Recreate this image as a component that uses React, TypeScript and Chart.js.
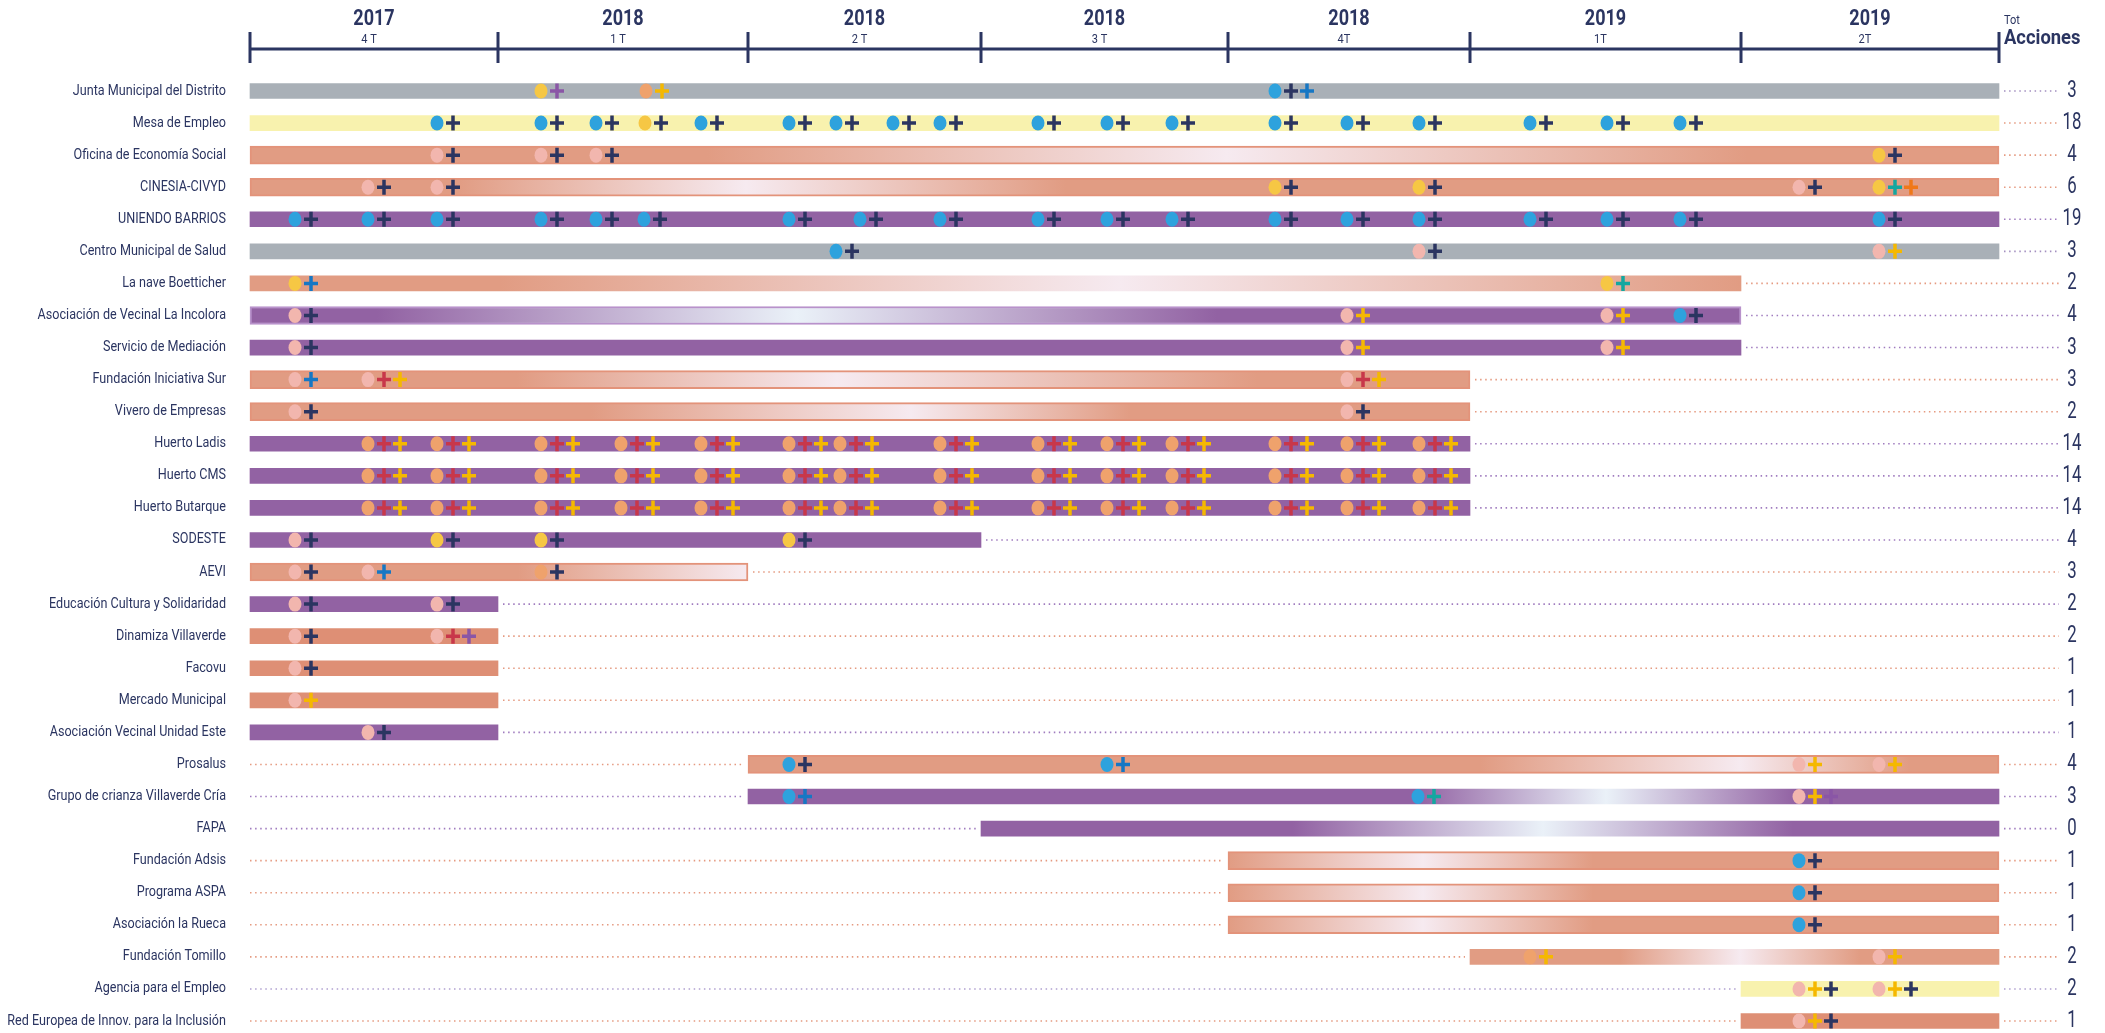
import React, { useEffect, useRef } from 'react';
import { Chart, registerables } from 'chart.js';
Chart.register(...registerables);

// ---------- DATA ----------
const organizations = [
  'Junta Municipal del Distrito', 'Mesa de Empleo', 'Oficina de Economía Social', 'CINESIA-CIVYD',
  'UNIENDO BARRIOS', 'Centro Municipal de Salud', 'La nave Boetticher', 'Asociación de Vecinal La Incolora',
  'Servicio de Mediación', 'Fundación Iniciativa Sur', 'Vivero de Empresas', 'Huerto Ladis', 'Huerto CMS',
  'Huerto Butarque', 'SODESTE', 'AEVI', 'Educación Cultura y Solidaridad', 'Dinamiza Villaverde', 'Facovu',
  'Mercado Municipal', 'Asociación Vecinal Unidad Este', 'Prosalus', 'Grupo de crianza Villaverde Cría', 'FAPA',
  'Fundación Adsis', 'Programa ASPA', 'Asociación la Rueca', 'Fundación Tomillo', 'Agencia para el Empleo',
  'Red Europea de Innov. para la Inclusión',
];

const quarterEdges = [0, 248, 498, 731, 978, 1220, 1491, 1749];
const yearLabels = ['2017', '2018', '2018', '2018', '2018', '2019', '2019'];
const quarterLabels = ['4 T', '1 T', '2 T', '3 T', '4T', '1T', '2T'];

const barStart = [0, 0, 0, 0, 0, 0, 0, 0, 0, 0, 0, 0, 0, 0, 0, 0, 0, 0, 0, 0, 0, 498, 498, 731, 978, 978, 978, 1220, 1491, 1491];
const barEnd = [1749, 1749, 1749, 1749, 1749, 1749, 1491, 1491, 1491, 1220, 1220, 1220, 1220, 1220, 731, 498, 248, 248, 248, 248, 248, 1749, 1749, 1749, 1749, 1749, 1749, 1749, 1749, 1749];
const totals = [3, 18, 4, 6, 19, 3, 2, 4, 3, 3, 2, 14, 14, 14, 4, 3, 2, 2, 1, 1, 1, 4, 3, 0, 1, 1, 1, 2, 2, 1];

// actions: [time, meeting type, action types]
// meeting: b blue, y yellow, o orange, p pink ; action: n navy, u purple, y yellow, l blue, t teal, o orange, r red
type Ev = [number, string, string];
const junta: Ev[] = [[291, 'y', 'u'], [396, 'o', 'y'], [1025, 'b', 'nl']];
const mesa: Ev[] = [[187, 'b', 'n'], [291, 'b', 'n'], [346, 'b', 'n'], [395, 'y', 'n'], [451, 'b', 'n'], [539, 'b', 'n'], [586, 'b', 'n'], [643, 'b', 'n'], [690, 'b', 'n'], [788, 'b', 'n'], [857, 'b', 'n'], [922, 'b', 'n'], [1025, 'b', 'n'], [1097, 'b', 'n'], [1169, 'b', 'n'], [1280, 'b', 'n'], [1357, 'b', 'n'], [1430, 'b', 'n']];
const oficina: Ev[] = [[187, 'p', 'n'], [291, 'p', 'n'], [346, 'p', 'n'], [1629, 'y', 'n']];
const cinesia: Ev[] = [[118, 'p', 'n'], [187, 'p', 'n'], [1025, 'y', 'n'], [1169, 'y', 'n'], [1549, 'p', 'n'], [1629, 'y', 'to']];
const uniendo: Ev[] = [[45, 'b', 'n'], [118, 'b', 'n'], [187, 'b', 'n'], [291, 'b', 'n'], [346, 'b', 'n'], [394, 'b', 'n'], [539, 'b', 'n'], [610, 'b', 'n'], [690, 'b', 'n'], [788, 'b', 'n'], [857, 'b', 'n'], [922, 'b', 'n'], [1025, 'b', 'n'], [1097, 'b', 'n'], [1169, 'b', 'n'], [1280, 'b', 'n'], [1357, 'b', 'n'], [1430, 'b', 'n'], [1629, 'b', 'n']];
const centro: Ev[] = [[586, 'b', 'n'], [1169, 'p', 'n'], [1629, 'p', 'y']];
const laNave: Ev[] = [[45, 'y', 'l'], [1357, 'y', 't']];
const incolora: Ev[] = [[45, 'p', 'n'], [1097, 'p', 'y'], [1357, 'p', 'y'], [1430, 'b', 'n']];
const mediacion: Ev[] = [[45, 'p', 'n'], [1097, 'p', 'y'], [1357, 'p', 'y']];
const iniciativa: Ev[] = [[45, 'p', 'l'], [118, 'p', 'ry'], [1097, 'p', 'ry']];
const vivero: Ev[] = [[45, 'p', 'n'], [1097, 'p', 'n']];
const huertoLadis: Ev[] = [[118, 'o', 'ry'], [187, 'o', 'ry'], [291, 'o', 'ry'], [371, 'o', 'ry'], [451, 'o', 'ry'], [539, 'o', 'ry'], [590, 'o', 'ry'], [690, 'o', 'ry'], [788, 'o', 'ry'], [857, 'o', 'ry'], [922, 'o', 'ry'], [1025, 'o', 'ry'], [1097, 'o', 'ry'], [1169, 'o', 'ry']];
const huertoCMS: Ev[] = [[118, 'o', 'ry'], [187, 'o', 'ry'], [291, 'o', 'ry'], [371, 'o', 'ry'], [451, 'o', 'ry'], [539, 'o', 'ry'], [590, 'o', 'ry'], [690, 'o', 'ry'], [788, 'o', 'ry'], [857, 'o', 'ry'], [922, 'o', 'ry'], [1025, 'o', 'ry'], [1097, 'o', 'ry'], [1169, 'o', 'ry']];
const huertoButarque: Ev[] = [[118, 'o', 'ry'], [187, 'o', 'ry'], [291, 'o', 'ry'], [371, 'o', 'ry'], [451, 'o', 'ry'], [539, 'o', 'ry'], [590, 'o', 'ry'], [690, 'o', 'ry'], [788, 'o', 'ry'], [857, 'o', 'ry'], [922, 'o', 'ry'], [1025, 'o', 'ry'], [1097, 'o', 'ry'], [1169, 'o', 'ry']];
const sodeste: Ev[] = [[45, 'p', 'n'], [187, 'y', 'n'], [291, 'y', 'n'], [539, 'y', 'n']];
const aevi: Ev[] = [[45, 'p', 'n'], [118, 'p', 'l'], [291, 'o', 'n']];
const educacion: Ev[] = [[45, 'p', 'n'], [187, 'p', 'n']];
const dinamiza: Ev[] = [[45, 'p', 'n'], [187, 'p', 'ru']];
const facovu: Ev[] = [[45, 'p', 'n']];
const mercado: Ev[] = [[45, 'p', 'y']];
const unidadEste: Ev[] = [[118, 'p', 'n']];
const prosalus: Ev[] = [[539, 'b', 'n'], [857, 'b', 'l'], [1549, 'p', 'y'], [1629, 'p', 'y']];
const grupoCrianza: Ev[] = [[539, 'b', 'l'], [1168, 'b', 't'], [1549, 'p', 'yu']];
const fapa: Ev[] = [];
const adsis: Ev[] = [[1549, 'b', 'n']];
const aspa: Ev[] = [[1549, 'b', 'n']];
const rueca: Ev[] = [[1549, 'b', 'n']];
const tomillo: Ev[] = [[1280, 'o', 'y'], [1629, 'p', 'y']];
const agencia: Ev[] = [[1549, 'p', 'yn'], [1629, 'p', 'yn']];
const redEuropea: Ev[] = [[1549, 'p', 'yn']];

const events: Ev[][] = [junta, mesa, oficina, cinesia, uniendo, centro, laNave, incolora, mediacion, iniciativa, vivero,
  huertoLadis, huertoCMS, huertoButarque, sodeste, aevi, educacion, dinamiza, facovu, mercado, unidadEste, prosalus,
  grupoCrianza, fapa, adsis, aspa, rueca, tomillo, agencia, redEuropea];

// ---------- STYLE ----------
// [kind, fade centre, fade spread left, fade spread right, outlined]
type Look = [string, number | null, number, number, boolean];
const rowLook: Look[] = [
  ['gray', null, 0, 0, false],
  ['yellow', null, 0, 0, false],
  ['salmon', 977, 520, 520, true],
  ['salmon', 496, 290, 320, true],
  ['purple', null, 0, 0, false],
  ['gray', null, 0, 0, false],
  ['salmon', 870, 620, 620, false],
  ['purple', 547, 420, 420, true],
  ['purple', null, 0, 0, false],
  ['salmon', 587, 320, 420, true],
  ['salmon', 661, 320, 220, true],
  ['purple', null, 0, 0, false],
  ['purple', null, 0, 0, false],
  ['purple', null, 0, 0, false],
  ['purple', null, 0, 0, false],
  ['salmon', 498, 230, 0, true],
  ['purple', null, 0, 0, false],
  ['salmonSolid', null, 0, 0, false],
  ['salmonSolid', null, 0, 0, false],
  ['salmonSolid', null, 0, 0, false],
  ['purple', null, 0, 0, false],
  ['salmon', 1490, 260, 170, true],
  ['purple', 1356, 190, 190, false],
  ['purple', 1293, 250, 250, false],
  ['salmon', 1173, 200, 170, true],
  ['salmon', 1173, 200, 170, true],
  ['salmon', 1173, 200, 170, true],
  ['salmon', 1490, 120, 120, false],
  ['yellow', null, 0, 0, false],
  ['salmonSolid', null, 0, 0, false],
];
const dottedColor = ['#A390C0', '#E59A80', '#E59A80', '#E59A80', '#A07CBF', '#A390C0', '#E59A80', '#A07CBF', '#A07CBF', '#E59A80',
  '#E59A80', '#A07CBF', '#A07CBF', '#A07CBF', '#A07CBF', '#E59A80', '#A07CBF', '#E59A80', '#E59A80', '#E59A80', '#A07CBF',
  '#E59A80', '#A07CBF', '#A07CBF', '#E59A80', '#E59A80', '#E59A80', '#E59A80', '#B0A0D0', '#E59A80'];

const BASE: Record<string, string> = {
  gray: '#A9B0B7', yellow: '#F8F2AE', purple: '#9262A3', salmon: '#E19C83', salmonSolid: '#DE8F75',
};
const LIGHT: Record<string, string> = { purple: '#EAF1F8', salmon: '#F6EAF0' };
const DOT: Record<string, string> = { b: '#2EA2DD', y: '#F6C744', o: '#EFA26C', p: '#F2B6AE' };
const PLUS: Record<string, string> = {
  n: '#2B3561', u: '#8A56A6', y: '#F5B800', l: '#1677C4', t: '#14A7A0', o: '#F07818', r: '#C8374A',
};
const NAVY = '#2B3561';
const FONT = 'Roboto, "Open Sans", sans-serif';

function txt(ctx: CanvasRenderingContext2D, s: string, x: number, y: number, font: string, color: string,
  align: CanvasTextAlign, sx: number) {
  ctx.save();
  ctx.translate(x, y);
  ctx.scale(sx, 1);
  ctx.font = font;
  ctx.fillStyle = color;
  ctx.textAlign = align;
  ctx.textBaseline = 'middle';
  ctx.fillText(s, 0, 0);
  ctx.restore();
}

function barFill(c: any) {
  const i = c.dataIndex;
  const look = rowLook[i];
  const base = BASE[look[0]];
  const chart = c.chart;
  const xs = chart.scales && chart.scales.x;
  if (look[1] === null || !xs || !chart.chartArea) return base;
  const x0 = xs.getPixelForValue(barStart[i]);
  const x1 = xs.getPixelForValue(barEnd[i]);
  const w = x1 - x0;
  const t = (v: number) => Math.min(1, Math.max(0, (xs.getPixelForValue(v) - x0) / w));
  const light = LIGHT[look[0]];
  const g = chart.ctx.createLinearGradient(x0, 0, x1, 0);
  g.addColorStop(0, base);
  const c0 = look[1] as number;
  if (c0 - look[2] > barStart[i]) g.addColorStop(t(c0 - look[2]), base);
  g.addColorStop(t(c0), light);
  if (c0 + look[3] < barEnd[i]) {
    g.addColorStop(t(c0 + look[3]), base);
    g.addColorStop(1, base);
  }
  return g;
}

const decorPlugin = {
  id: 'decor',
  beforeDatasetsDraw(chart: any) {
    const { ctx, chartArea } = chart;
    const xs = chart.scales.x;
    const ys = chart.scales.y;
    ctx.save();
    // header
    ctx.strokeStyle = NAVY;
    ctx.lineWidth = 3;
    const axisY = chartArea.top - 42;
    ctx.beginPath();
    ctx.moveTo(xs.getPixelForValue(quarterEdges[0]), axisY);
    ctx.lineTo(xs.getPixelForValue(quarterEdges[quarterEdges.length - 1]), axisY);
    ctx.stroke();
    quarterEdges.forEach((q) => {
      const px = xs.getPixelForValue(q);
      ctx.beginPath();
      ctx.moveTo(px, axisY - 17);
      ctx.lineTo(px, axisY + 14);
      ctx.stroke();
    });
    for (let k = 0; k < yearLabels.length; k++) {
      const cx = (xs.getPixelForValue(quarterEdges[k]) + xs.getPixelForValue(quarterEdges[k + 1])) / 2;
      txt(ctx, yearLabels[k], cx, chartArea.top - 72, `bold 22px ${FONT}`, NAVY, 'center', 0.82);
      txt(ctx, quarterLabels[k], cx - 5, chartArea.top - 51, `13px ${FONT}`, NAVY, 'center', 0.85);
    }
    txt(ctx, 'Tot', chartArea.right + 5, chartArea.top - 70, `13px ${FONT}`, NAVY, 'left', 0.85);
    txt(ctx, 'Acciones', chartArea.right + 5, chartArea.top - 52, `bold 20px ${FONT}`, NAVY, 'left', 0.92);

    // org labels, dotted guides, totals
    organizations.forEach((name, i) => {
      const y = ys.getPixelForValue(i);
      txt(ctx, name, chartArea.left - 24, y, `14px ${FONT}`, NAVY, 'right', 0.9);
      ctx.save();
      ctx.strokeStyle = dottedColor[i];
      ctx.lineWidth = 1.6;
      ctx.setLineDash([1.5, 3.6]);
      const xe = xs.getPixelForValue(barEnd[i]);
      ctx.beginPath();
      ctx.moveTo(xe + 5, y);
      ctx.lineTo(chartArea.right + 60, y);
      ctx.stroke();
      if (barStart[i] > 0) {
        const xb = xs.getPixelForValue(barStart[i]);
        ctx.beginPath();
        ctx.moveTo(chartArea.left, y);
        ctx.lineTo(xb - 5, y);
        ctx.stroke();
      }
      ctx.restore();
      txt(ctx, String(totals[i]), chartArea.right + 73, y, `24px ${FONT}`, NAVY, 'center', 0.7);
    });
    ctx.restore();
  },
  afterDatasetsDraw(chart: any) {
    const { ctx } = chart;
    const xs = chart.scales.x;
    const ys = chart.scales.y;
    ctx.save();
    events.forEach((row, i) => {
      const y = ys.getPixelForValue(i);
      row.forEach(([v, dot, plus]) => {
        const px = xs.getPixelForValue(v);
        ctx.fillStyle = DOT[dot];
        ctx.beginPath();
        ctx.ellipse(px, y, 6.5, 7.5, 0, 0, Math.PI * 2);
        ctx.fill();
        for (let k = 0; k < plus.length; k++) {
          const cx = px + 16 + k * 16;
          ctx.strokeStyle = PLUS[plus[k]];
          ctx.lineWidth = 3.5;
          ctx.beginPath();
          ctx.moveTo(cx - 7, y);
          ctx.lineTo(cx + 7, y);
          ctx.moveTo(cx, y - 7.5);
          ctx.lineTo(cx, y + 7.5);
          ctx.stroke();
        }
      });
    });
    ctx.restore();
  },
};

export default function App() {
  const ref = useRef<HTMLCanvasElement>(null);
  useEffect(() => {
    if (!ref.current) return;
    const ranges = organizations.map((_, i) => [barStart[i], barEnd[i]]);
    const chart = new Chart(ref.current, {
      type: 'bar',
      data: {
        labels: organizations,
        datasets: [
          {
            label: 'plain',
            data: ranges.map((r, i) => (rowLook[i][4] ? null : r)) as any,
            backgroundColor: barFill as any,
            borderWidth: 0,
            barThickness: 15,
            grouped: false,
            clip: false as any,
          },
          {
            label: 'outlined',
            data: ranges.map((r, i) => (rowLook[i][4] ? r : null)) as any,
            backgroundColor: barFill as any,
            borderColor: (c: any) => (rowLook[c.dataIndex][0] === 'purple' ? '#B892CB' : '#E3937A'),
            borderWidth: 2,
            borderSkipped: false,
            barThickness: 18,
            grouped: false,
            clip: false as any,
          },
        ],
      },
      options: {
        indexAxis: 'y',
        responsive: false,
        animation: false,
        layout: { padding: { left: 250, right: 106, top: 91, bottom: 12 } },
        scales: {
          x: { type: 'linear', min: 0, max: 1749, display: false },
          y: { type: 'category', offset: false, display: false },
        },
        plugins: { legend: { display: false }, tooltip: { enabled: false } },
      },
      plugins: [decorPlugin],
    });
    return () => chart.destroy();
  }, []);
  return (
    <div style={{ position: 'fixed', left: 0, top: 0, width: 2105, height: 1033, background: '#fff' }}>
      <canvas ref={ref} width={2105} height={1033} style={{ display: 'block' }} />
    </div>
  );
}
